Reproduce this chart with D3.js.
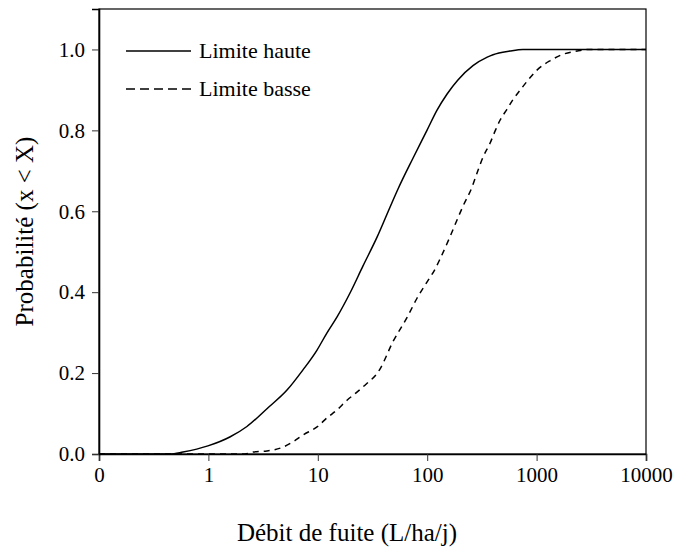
<!DOCTYPE html>
<html>
<head>
<meta charset="utf-8">
<script src="https://cdn.jsdelivr.net/npm/d3@7/dist/d3.min.js"></script>
<style>
  html, body { margin: 0; padding: 0; background: #fff; }
  svg { display: block; }
  svg text { font-family: "Liberation Serif", "Times New Roman", serif !important; fill: #000; }
</style>
</head>
<body>
<svg id="chart" width="677" height="548"></svg>
<script>
// ---- data ----
const xTickValues = [0.1, 1, 10, 100, 1000, 10000];
const xTickLabels = ["0", "1", "10", "100", "1000", "10000"];
const yTickValues = [0, 0.2, 0.4, 0.6, 0.8, 1.0];

const hauteX = [0.1, 0.446, 0.586, 0.99, 1.57, 2.25, 3.43, 5.23, 7.32, 9.84, 12.1, 15.0, 19.7, 25.9, 34.8, 45.7, 54.1, 74.1, 99.5, 123, 152, 190, 262, 354, 400, 570, 750, 10000];
const hauteY = [0, 0, 0.005, 0.02, 0.042, 0.068, 0.112, 0.158, 0.208, 0.257, 0.299, 0.339, 0.398, 0.465, 0.536, 0.610, 0.655, 0.731, 0.80, 0.85, 0.89, 0.924, 0.960, 0.981, 0.987, 0.996, 1.0, 1.0];

const basseX = [0.1, 2.16, 2.56, 3.43, 4.81, 5.93, 7.32, 9.84, 12.1, 15.0, 18.5, 22.8, 28.2, 34.8, 37.0, 48.7, 65.3, 80.7, 99.5, 118, 131, 161, 187, 212, 257, 285, 324, 375, 417, 463, 536, 608, 705, 834, 1008, 1325, 1742, 2340, 3075, 10000];
const basseY = [0, 0, 0.005, 0.0074, 0.017, 0.030, 0.047, 0.067, 0.089, 0.109, 0.133, 0.153, 0.175, 0.199, 0.210, 0.278, 0.337, 0.385, 0.425, 0.457, 0.482, 0.536, 0.578, 0.612, 0.660, 0.694, 0.734, 0.768, 0.798, 0.825, 0.852, 0.876, 0.899, 0.924, 0.949, 0.972, 0.988, 0.996, 1.0, 1.0];

const seriesNames = ["Limite haute", "Limite basse"];
const xTitle = "Débit de fuite (L/ha/j)";
const yTitle = "Probabilité (x < X)";

// ---- layout ----
const FONT = "'Liberation Serif', 'Times New Roman', serif";
const L = 99, R = 646, T = 9, B = 454;
const svg = d3.select("#chart");

const x = d3.scaleLog().domain([0.1, 10000]).range([L, R]);
const y = d3.scaleLinear().domain([0, 1.1]).range([B, T]);

// frame
svg.append("rect")
  .attr("x", L).attr("y", T).attr("width", R - L).attr("height", B - T)
  .attr("fill", "none").attr("stroke", "#000").attr("stroke-width", 1.2);

// x axis
const xAxis = d3.axisBottom(x)
  .tickValues(xTickValues)
  .tickFormat((d, i) => xTickLabels[i])
  .tickSize(7).tickPadding(6);
const gx = svg.append("g").attr("transform", `translate(0,${B})`).call(xAxis)
  .attr("font-family", FONT).attr("font-size", 21);
gx.select(".domain").attr("stroke", "#000").attr("stroke-width", 1.6);
gx.selectAll(".tick line").attr("stroke", "#333").attr("stroke-width", 1);
gx.selectAll(".tick text").style("font-family", FONT).style("font-size", "21px");

// y axis
const yAxis = d3.axisLeft(y)
  .tickValues(yTickValues)
  .tickFormat(d3.format(".1f"))
  .tickSize(7).tickPadding(7);
const gy = svg.append("g").attr("transform", `translate(${L},0)`).call(yAxis)
  .attr("font-family", FONT).attr("font-size", 21);
gy.select(".domain").attr("stroke", "#000").attr("stroke-width", 1.6);
gy.selectAll(".tick line").attr("stroke", "#333").attr("stroke-width", 1);
gy.selectAll(".tick text").style("font-family", FONT).style("font-size", "21px");

// curves
const line = d3.line().curve(d3.curveMonotoneX).x(d => x(d[0])).y(d => y(d[1]));
const hauteData = hauteX.map((v, i) => [v, hauteY[i]]);
const basseData = basseX.map((v, i) => [v, basseY[i]]);

svg.append("path").datum(hauteData).attr("d", line)
  .attr("fill", "none").attr("stroke", "#000").attr("stroke-width", 1.5);
svg.append("path").datum(basseData).attr("d", line)
  .attr("fill", "none").attr("stroke", "#000").attr("stroke-width", 1.5)
  .attr("stroke-dasharray", "6,5");

// legend
const legend = svg.append("g");
[0, 1].forEach(i => {
  const ly = 51 + i * 38;
  legend.append("line").attr("x1", 126).attr("x2", 191).attr("y1", ly).attr("y2", ly)
    .attr("stroke", "#000").attr("stroke-width", 1.3)
    .attr("stroke-dasharray", i === 1 ? "9,5" : null);
  legend.append("text").attr("x", 199).attr("y", ly + 7)
    .style("font-family", FONT).style("font-size", "22px").text(seriesNames[i]);
});

// axis titles
svg.append("text").attr("x", 347).attr("y", 541).attr("text-anchor", "middle")
  .style("font-family", FONT).style("font-size", "25px").text(xTitle);
svg.append("text").attr("transform", `translate(33,${(T + B) / 2}) rotate(-90)`)
  .attr("text-anchor", "middle").style("font-family", FONT).style("font-size", "25px").text(yTitle);
</script>
</body>
</html>
